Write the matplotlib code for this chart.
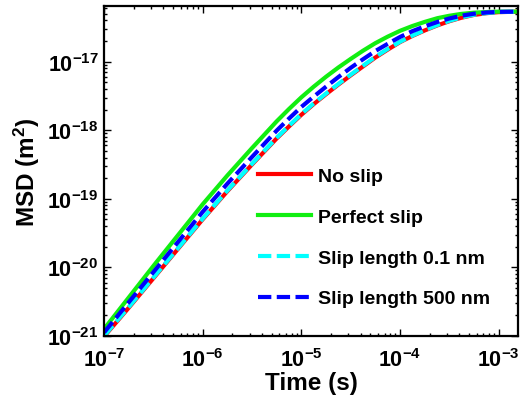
import numpy as np
import matplotlib
matplotlib.use("Agg")
import matplotlib.pyplot as plt
from matplotlib.ticker import FixedLocator, LogLocator, FuncFormatter, NullFormatter

plt.rcParams["font.family"] = ["Liberation Sans", "DejaVu Sans"]
plt.rcParams["font.weight"] = "bold"
plt.rcParams["mathtext.fontset"] = "custom"
plt.rcParams["mathtext.rm"] = "Liberation Sans:bold"
plt.rcParams["mathtext.bf"] = "Liberation Sans:bold"
plt.rcParams["mathtext.it"] = "Liberation Sans:bold:italic"
plt.rcParams["mathtext.default"] = "bf"

# Time axis (log10 of seconds)
time_log10 = [-7.0, -6.75, -6.5, -6.25, -6.0, -5.75, -5.5, -5.25, -5.125,
              -5.0, -4.875, -4.75, -4.625, -4.5, -4.375, -4.25, -4.125,
              -4.0, -3.875, -3.75, -3.62, -3.5, -3.38, -3.25, -3.12, -3.0,
              -2.8]

# Mean squared displacement (log10 of m^2) for each boundary condition
msd_no_slip_log10 = [-21.01, -20.59, -20.16, -19.73, -19.30, -18.89, -18.50,
                     -18.12, -17.945, -17.775, -17.62, -17.475, -17.335,
                     -17.20, -17.07, -16.94, -16.825, -16.715, -16.625,
                     -16.545, -16.47, -16.41, -16.36, -16.318, -16.292,
                     -16.277, -16.27]
msd_perfect_log10 = [-20.90, -20.44, -19.98, -19.53, -19.08, -18.66, -18.26,
                     -17.87, -17.69, -17.52, -17.365, -17.22, -17.085,
                     -16.96, -16.84, -16.73, -16.635, -16.55, -16.48, -16.42,
                     -16.365, -16.33, -16.303, -16.285, -16.275, -16.27,
                     -16.27]
msd_slip01_log10 = [-21.00, -20.58, -20.15, -19.72, -19.29, -18.88, -18.49,
                    -18.11, -17.935, -17.765, -17.61, -17.465, -17.325,
                    -17.19, -17.06, -16.93, -16.815, -16.71, -16.62, -16.54,
                    -16.465, -16.405, -16.355, -16.315, -16.29, -16.276,
                    -16.27]
msd_slip500_log10 = [-20.95, -20.51, -20.07, -19.63, -19.19, -18.78, -18.39,
                     -18.005, -17.83, -17.66, -17.51, -17.365, -17.225,
                     -17.09, -16.965, -16.845, -16.74, -16.64, -16.555,
                     -16.485, -16.42, -16.37, -16.33, -16.30, -16.282,
                     -16.273, -16.27]

labels = ["No slip", "Perfect slip", "Slip length 0.1 nm", "Slip length 500 nm"]
x_decades = [-7, -6, -5, -4, -3]
y_decades = [-21, -20, -19, -18, -17]

t = 10.0 ** np.array(time_log10)

fig = plt.figure(figsize=(5.23, 4.02), dpi=100)
ax = fig.add_axes([0.199, 0.162, 0.792, 0.821])

lw = 3.0
dash = (0, (3.2, 1.3))
ax.plot(t, 10.0 ** np.array(msd_no_slip_log10), color="#ff0000", lw=lw,
        label=labels[0])
ax.plot(t, 10.0 ** np.array(msd_perfect_log10), color="#11ee11", lw=lw,
        label=labels[1])
ax.plot(t, 10.0 ** np.array(msd_slip01_log10), color="#00ffff", lw=lw,
        ls=dash, label=labels[2])
ax.plot(t, 10.0 ** np.array(msd_slip500_log10), color="#0000ff", lw=lw,
        ls=dash, label=labels[3])

ax.set_xscale("log")
ax.set_yscale("log")
ax.set_xlim(1e-7, 10 ** -2.80)
ax.set_ylim(1e-21, 10 ** -16.185)

fmt = FuncFormatter(lambda v, p: r"$\mathbf{10^{%d}}$" % int(round(np.log10(v))))
ax.xaxis.set_major_locator(FixedLocator([10.0 ** d for d in x_decades]))
ax.yaxis.set_major_locator(FixedLocator([10.0 ** d for d in y_decades]))
ax.xaxis.set_minor_locator(LogLocator(base=10, subs=np.arange(2, 10), numticks=50))
ax.yaxis.set_minor_locator(LogLocator(base=10, subs=np.arange(2, 10), numticks=50))
ax.xaxis.set_major_formatter(fmt)
ax.yaxis.set_major_formatter(fmt)
ax.xaxis.set_minor_formatter(NullFormatter())
ax.yaxis.set_minor_formatter(NullFormatter())

ax.tick_params(which="both", direction="in", top=True, right=True,
               width=1.0, labelsize=15.5, colors="black")
ax.tick_params(which="major", length=5)
ax.tick_params(axis="x", which="major", pad=9)
ax.tick_params(axis="y", which="major", pad=4)
ax.tick_params(which="minor", length=2.5)
for s in ax.spines.values():
    s.set_linewidth(1.6)

ax.set_xlabel("Time (s)", fontsize=17.5, fontweight="bold", labelpad=0)
ax.set_ylabel(r"MSD (m$^{\mathbf{2}}$)", fontsize=17.5, fontweight="bold",
              labelpad=4)

ax.legend(loc="upper left", bbox_to_anchor=(258 / 523, 1 - 168 / 402),
          bbox_transform=fig.transFigure, frameon=False,
          handlelength=2.7, handletextpad=0.4, labelspacing=1.2,
          borderpad=0, borderaxespad=0, prop={"weight": "bold", "size": 14})

fig.savefig("out.png", dpi=100)
